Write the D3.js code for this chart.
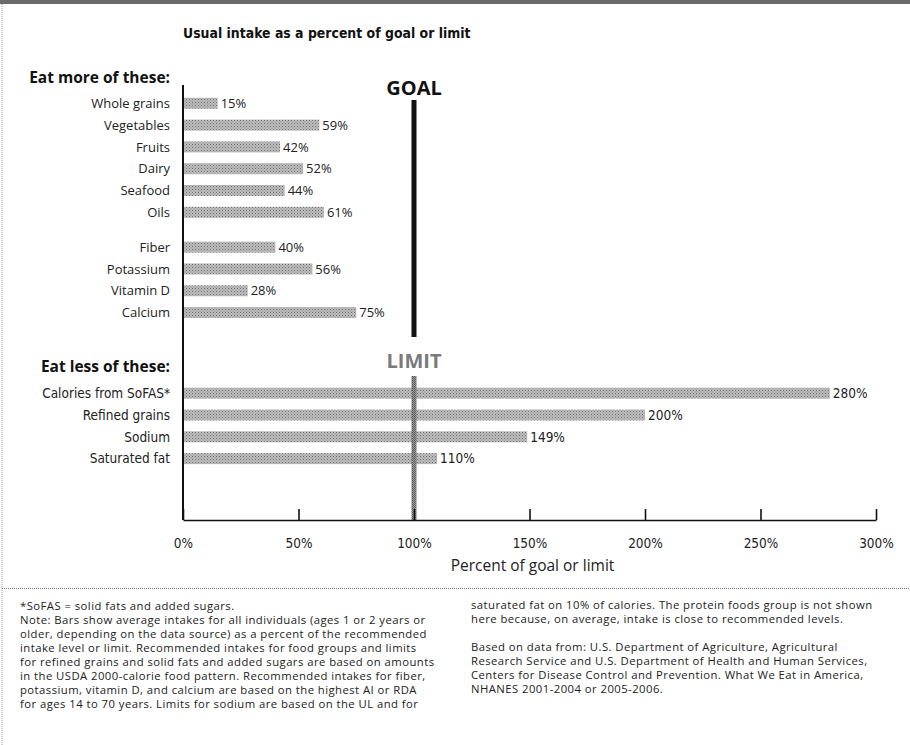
<!DOCTYPE html>
<html>
<head>
<meta charset="utf-8">
<script src="https://cdn.jsdelivr.net/npm/d3@7/dist/d3.min.js"></script>
<style>
  html, body { margin: 0; padding: 0; background: #fff; }
  svg { display: block; }
  .lbl { font-family: "Open Sans", "Noto Sans", sans-serif; font-size: 13px; fill: #222; }
  .note { font-family: "Open Sans", "Noto Sans", sans-serif; font-size: 11.3px; letter-spacing: 0.45px; fill: #222; }
</style>
</head>
<body>
<svg id="chart" width="910" height="745"></svg>
<script>
// ---- data ----
const foodCategories = ["Whole grains", "Vegetables", "Fruits", "Dairy", "Seafood", "Oils"];
const foodValues = [15, 59, 42, 52, 44, 61];
const nutrientCategories = ["Fiber", "Potassium", "Vitamin D", "Calcium"];
const nutrientValues = [40, 56, 28, 75];
const lessCategories = ["Calories from SoFAS*", "Refined grains", "Sodium", "Saturated fat"];
const lessValues = [280, 200, 149, 110];
const tickValues = [0, 50, 100, 150, 200, 250, 300];
const tickLabels = ["0%", "50%", "100%", "150%", "200%", "250%", "300%"];
const referenceValue = 100;

const title = "Usual intake as a percent of goal or limit";
const noteLeft = [
  "*SoFAS = solid fats and added sugars.",
  "Note: Bars show average intakes for all individuals (ages 1 or 2 years or",
  "older, depending on the data source) as a percent of the recommended",
  "intake level or limit.  Recommended intakes for food groups and limits",
  "for refined grains and solid fats and added sugars are based on amounts",
  "in the USDA 2000-calorie food pattern. Recommended intakes for fiber,",
  "potassium, vitamin D, and calcium are based on the highest AI or RDA",
  "for ages 14 to 70 years. Limits for sodium are based on the UL and for"
];
const noteRight = [
  "saturated fat on 10% of calories. The protein foods group is not shown",
  "here because, on average, intake is close to recommended levels.",
  "",
  "Based on data from: U.S. Department of Agriculture, Agricultural",
  "Research Service and U.S. Department of Health and Human Services,",
  "Centers for Disease Control and Prevention. What We Eat in America,",
  "NHANES 2001-2004 or 2005-2006."
];

// ---- build rows ----
const groups = [
  { cats: foodCategories, vals: foodValues, offset: 0 },
  { cats: nutrientCategories, vals: nutrientValues, offset: 6.6 },
  { cats: lessCategories, vals: lessValues, offset: 13.3 }
];
const rows = [];
groups.forEach(g => g.cats.forEach((c, i) => rows.push({ cat: c, val: g.vals[i], idx: g.offset + i, condensed: g.offset > 10 })));

const svg = d3.select("#chart");

// pattern for halftone bars
const defs = svg.append("defs");
const pat = defs.append("pattern").attr("id", "half").attr("width", 3).attr("height", 3)
  .attr("patternUnits", "userSpaceOnUse");
pat.append("rect").attr("width", 3).attr("height", 3).attr("fill", "#bdbdbd");
pat.append("rect").attr("x", 0).attr("y", 0).attr("width", 1).attr("height", 1).attr("fill", "#6e6e6e");
pat.append("rect").attr("x", 1.5).attr("y", 1.5).attr("width", 1).attr("height", 1).attr("fill", "#858585");
const pat2 = defs.append("pattern").attr("id", "lim").attr("width", 2).attr("height", 2)
  .attr("patternUnits", "userSpaceOnUse");
pat2.append("rect").attr("width", 2).attr("height", 2).attr("fill", "#9a9a9a");
pat2.append("rect").attr("width", 1).attr("height", 1).attr("fill", "#555");
pat2.append("rect").attr("x", 1).attr("y", 1).attr("width", 1).attr("height", 1).attr("fill", "#666");

// frame decorations
svg.append("rect").attr("x", 0).attr("y", 0).attr("width", 910).attr("height", 4).attr("fill", "#6a6a6a");
svg.append("line").attr("x1", 2).attr("x2", 2).attr("y1", 4).attr("y2", 745)
  .attr("stroke", "#999").attr("stroke-width", 1).attr("stroke-dasharray", "1,1");
svg.append("line").attr("x1", 2).attr("x2", 910).attr("y1", 588.5).attr("y2", 588.5)
  .attr("stroke", "#777").attr("stroke-width", 1).attr("stroke-dasharray", "1,1");

// scales
const x = d3.scaleLinear().domain([0, 300]).range([183, 876]);
const y = d3.scaleLinear().domain([0, 16.3]).range([103.3, 458.6]);
const barH = 11;
const axisY = 520;

// title
svg.append("text").attr("x", 183).attr("y", 38)
  .attr("font-family", "'DejaVu Sans Condensed', 'DejaVu Sans', sans-serif")
  .attr("font-stretch", "condensed")
  .attr("font-weight", "bold").attr("font-size", 13.9).attr("fill", "#111").text(title);

// section headers
svg.append("text").attr("x", 170).attr("y", 83).attr("text-anchor", "end")
  .attr("font-family", "'Open Sans', 'Noto Sans', sans-serif").attr("font-weight", "bold")
  .attr("font-size", 15.5).attr("fill", "#111").text("Eat more of these:");
svg.append("text").attr("x", 170).attr("y", 372).attr("text-anchor", "end")
  .attr("font-family", "'Open Sans', 'Noto Sans', sans-serif").attr("font-weight", "bold")
  .attr("font-size", 15.5).attr("fill", "#111").text("Eat less of these:");

// bars
svg.append("g").selectAll("rect").data(rows).join("rect")
  .attr("x", x(0) + 1)
  .attr("y", d => y(d.idx) - barH / 2)
  .attr("width", d => x(d.val) - x(0) - 1)
  .attr("height", barH)
  .attr("fill", "url(#half)");

// category labels
svg.append("g").selectAll("text").data(rows).join("text")
  .attr("class", "lbl")
  .attr("x", 170).attr("y", d => y(d.idx)).attr("dy", "0.36em")
  .attr("text-anchor", "end")
  .style("font-family", d => d.condensed ? "'DejaVu Sans Condensed', 'Open Sans', sans-serif" : null)
  .style("font-size", d => d.condensed ? "13.5px" : null)
  .text(d => d.cat);

// value labels
svg.append("g").selectAll("text").data(rows).join("text")
  .attr("class", "lbl")
  .attr("x", d => x(d.val) + 3).attr("y", d => y(d.idx)).attr("dy", "0.36em")
  .style("font-family", d => d.condensed ? "'DejaVu Sans Condensed', 'Open Sans', sans-serif" : null)
  .style("font-size", d => d.condensed ? "13.5px" : null)
  .text(d => d.val + "%");

// goal line
svg.append("line").attr("x1", x(referenceValue)).attr("x2", x(referenceValue))
  .attr("y1", 100).attr("y2", 337).attr("stroke", "#111").attr("stroke-width", 5);
svg.append("text").attr("x", x(referenceValue)).attr("y", 95).attr("text-anchor", "middle")
  .attr("font-family", "'Open Sans', 'Noto Sans', sans-serif").attr("font-weight", "bold")
  .attr("font-size", 20).attr("fill", "#111").text("GOAL");

// limit line
svg.append("rect").attr("x", x(referenceValue) - 2.5).attr("width", 5)
  .attr("y", 376).attr("height", axisY - 376).attr("fill", "url(#lim)");
svg.append("text").attr("x", x(referenceValue)).attr("y", 368).attr("text-anchor", "middle")
  .attr("font-family", "'Open Sans', 'Noto Sans', sans-serif").attr("font-weight", "bold")
  .attr("font-size", 20).attr("fill", "#7a7a7a").text("LIMIT");

// left vertical axis line
svg.append("line").attr("x1", x(0)).attr("x2", x(0)).attr("y1", 85).attr("y2", axisY)
  .attr("stroke", "#111").attr("stroke-width", 2);

// bottom axis
const axis = d3.axisBottom(x).tickValues(tickValues)
  .tickFormat((d, i) => tickLabels[i]).tickSize(-11).tickSizeOuter(0);
const gx = svg.append("g").attr("transform", `translate(0,${axisY})`).call(axis);
gx.select(".domain").attr("stroke", "#111").attr("stroke-width", 1.6);
gx.selectAll(".tick line").attr("stroke", "#111").attr("stroke-width", 1.6);
gx.selectAll(".tick text").attr("y", 18)
  .attr("font-family", "'DejaVu Sans Condensed', 'Open Sans', sans-serif")
  .attr("font-size", 13.5).attr("fill", "#222");

svg.append("text").attr("x", x(150) + 3).attr("y", 571).attr("text-anchor", "middle")
  .attr("font-family", "'Open Sans', 'Noto Sans', sans-serif")
  .attr("font-size", 15.5).attr("fill", "#222").text("Percent of goal or limit");

// notes
svg.append("g").selectAll("text").data(noteLeft).join("text")
  .attr("class", "note").attr("x", 20).attr("y", (d, i) => 610 + i * 14).text(d => d);
svg.append("g").selectAll("text").data(noteRight).join("text")
  .attr("class", "note").attr("x", 471).attr("y", (d, i) => 609 + i * 14).text(d => d);
</script>
</body>
</html>
